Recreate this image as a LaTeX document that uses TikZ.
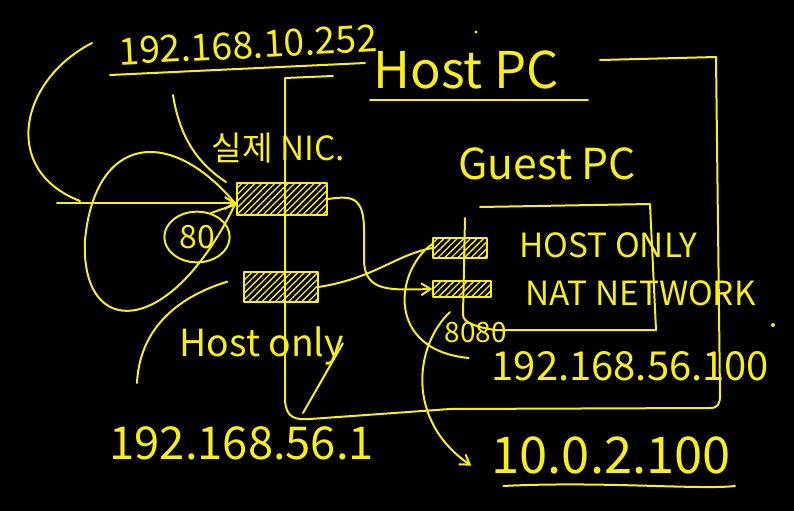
\documentclass[tikz,border=0pt]{standalone}
\usepackage{fontspec}
\setmainfont{Noto Sans CJK KR}
\usetikzlibrary{patterns.meta,arrows.meta,shapes.geometric,positioning}
\definecolor{pen}{RGB}{250,238,24}

\begin{document}
\begin{tikzpicture}[x=0.75pt,y=-0.75pt,
    ink/.style={draw=pen,line width=1.5pt,line cap=round,line join=round},
    tip/.style={-{Straight Barb[length=7pt,width=9pt]}},
    nic/.style={ink,pattern={Lines[angle=45,distance=3.5pt,line width=1pt]},pattern color=pen,inner sep=0pt},
    hand/.style={text=pen,inner sep=1pt}]
  \fill[black] (0,0) rectangle (794,511);
  \useasboundingbox (0,0) rectangle (794,511);

  % labels
  \node[hand,font=\fontsize{28}{30}\selectfont,rotate=3] (ipreal) at (248,45) {192.168.10.252};
  \node[hand,font=\fontsize{38}{40}\selectfont] (hostpc) at (466,70) {Host PC};
  \node[hand,font=\fontsize{25}{27}\selectfont] (niclabel) at (278,148) {실제 NIC.};
  \node[hand,font=\fontsize{32}{34}\selectfont] (guestpc) at (547,164) {Guest PC};
  \node[hand,font=\fontsize{25}{27}\selectfont,anchor=west] (onlylabel) at (518,245) {HOST ONLY};
  \node[hand,font=\fontsize{25}{27}\selectfont,anchor=west] (natlabel) at (524,293) {NAT NETWORK};
  \node[hand,font=\fontsize{28}{30}\selectfont,anchor=west] (hostonly) at (178,346) {Host only};
  \node[hand,font=\fontsize{34}{36}\selectfont,anchor=west] (ip561) at (108,443) {192.168.56.1};
  \node[hand,font=\fontsize{21}{23}\selectfont,anchor=west] (port8080) at (443,333) {8080};
  \node[hand,font=\fontsize{30}{32}\selectfont,anchor=west] (ip56100) at (490,366) {192.168.56.100};
  \node[hand,font=\fontsize{38}{40}\selectfont,anchor=west] (ip1002) at (490,455) {10.0.2.100};

  % adapters
  \node[nic,minimum width=68pt,minimum height=24pt] (realnic) at (282,199) {};
  \node[nic,minimum width=55pt,minimum height=22pt] (hostnic) at (281,287) {};
  \node[nic,minimum width=40pt,minimum height=15pt] (gonly) at (460,248) {};
  \node[nic,minimum width=43pt,minimum height=12pt] (gnat) at (462,289) {};
  \node[ink,ellipse,minimum width=49pt,minimum height=38pt,hand,font=\fontsize{24}{26}\selectfont] (port80) at (197,237) {80};

  % host pc box
  \draw[ink] (333,76) -- (285,78) -- (285,400) .. controls (286,418) and (295,420) .. (310,419)
    -- (450,409) -- (710,408) .. controls (718,408) and (720,404) .. (720,395) -- (716,57) -- (600,60);
  % guest pc box
  \draw[ink] (480,207) -- (650,204) -- (656,330) -- (495,330) .. controls (475,327) and (463,322) .. (463,315) -- (465,218);

  % underlines
  \draw[ink] (110,75) -- (365,63);
  \draw[ink] (370,100) -- (588,100);
  \draw[ink] ([xshift=10pt,yshift=-8pt]ip1002.south west) .. controls (600,481) and (700,490) .. ([xshift=2pt,yshift=-8pt]ip1002.south east);

  % connectors
  \coordinate (leftend) at (57,203);
  \coordinate (topleft) at (92,43);
  \coordinate (nicptr) at (173,95);
  \coordinate (onlyptr) at (137,383);
  \coordinate (boxptr) at (303,413);
  \coordinate (natptr) at (450,312);
  \draw[ink,tip] (leftend) -- ([yshift=-3pt]realnic.west);
  \draw[ink] (topleft) .. controls (20,80) and (0,170) .. (80,201);
  \draw[ink] (nicptr) .. controls (180,140) and (200,165) .. (226,182);
  \draw[ink] ([yshift=-4pt]realnic.west) .. controls (170,125) and (95,135) .. (85,240)
    .. controls (80,340) and (170,340) .. ([yshift=10pt]realnic.south west);
  \draw[ink] (port80.60) -- ([yshift=-4pt]realnic.west);
  \draw[ink] (onlyptr) .. controls (140,320) and (190,293) .. ([xshift=-12pt,yshift=4pt]hostnic.west);
  \draw[ink] (boxptr) -- ([xshift=-2pt,yshift=2pt]hostonly.east);
  \draw[ink,tip] (realnic.east) .. controls (350,196) and (364,195) .. (364,230)
    -- (364,262) .. controls (366,292) and (390,290) .. (gnat.west);
  \draw[ink] (hostnic.east) .. controls (375,278) and (395,255) .. (gonly.west);
  \draw[ink] ([yshift=3pt]gonly.west) .. controls (395,270) and (385,350) .. ([xshift=-16pt,yshift=6pt]ip56100.west);
  \draw[ink,tip] (natptr) .. controls (415,345) and (405,420) .. ([xshift=-14pt,yshift=-8pt]ip1002.west);

  % dots
  \fill[pen] (773,325) circle (1.5pt);
  \fill[pen] (476,32) circle (1.2pt);
\end{tikzpicture}
\end{document}
